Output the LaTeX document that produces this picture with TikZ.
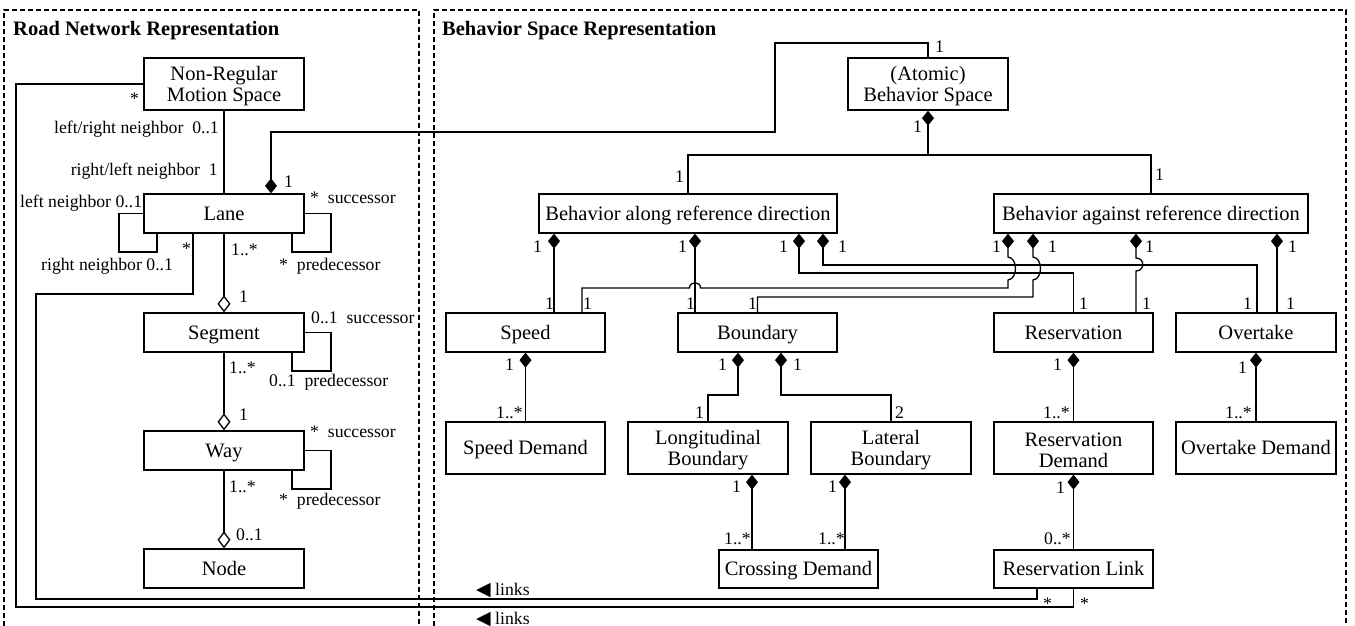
\documentclass[tikz,border=0pt]{standalone}
\usepackage{fontspec}
\setmainfont{Liberation Serif}
\newfontfamily\symfont{DejaVu Sans}
\usetikzlibrary{arrows.meta}
\newcommand{\topstrut}{\rule{0pt}{18pt}}
\begin{document}
\begin{tikzpicture}[x=1pt,y=-1pt,
  box/.style={draw, line width=1.3pt, minimum width=160pt, minimum height=39pt, inner sep=0pt, align=center, font=\fontsize{20.5}{21.5}\selectfont},
  sbox/.style={box, text height=14pt, text depth=0.5pt},
  lbl/.style={inner sep=0pt, anchor=base west, font=\fontsize{17.7}{20}\selectfont},
  lble/.style={lbl, anchor=base east},
  ttl/.style={inner sep=0pt, anchor=base west, font=\fontsize{20.5}{22}\selectfont\bfseries},
  con/.style={line width=1.3pt},
  comp/.style={con, {Diamond[length=15pt,width=12pt]}-},
  agg/.style={con, {Diamond[open,length=17pt,width=13pt]}-},
  frame/.style={line width=1.1pt, dash pattern=on 5pt off 3pt},
]
\useasboundingbox (0,0) rectangle (1355,626);
% frames
\draw[frame] (4,626) -- (4,10) -- (419,10) -- (419,626);
\draw[frame] (434,626) -- (434,10) -- (1346,10) -- (1346,626);
\node[ttl] (t1) at (13,35.5) {Road Network Representation};
\node[ttl] (t2) at (442,35.5) {Behavior Space Representation};

% left boxes
\node[box, minimum height=52pt] (nrm) at (224,84) {\topstrut Non-Regular\\Motion Space};
\node[sbox] (lane) at (224,213.5) {Lane};
\node[sbox] (seg) at (224,332.5) {Segment};
\node[sbox] (way) at (224,450.5) {Way};
\node[sbox] (nd) at (224,568.5) {Node};

% right boxes
\node[box, minimum height=52pt] (abs) at (928,84) {\topstrut(Atomic)\\Behavior Space};
\node[sbox, minimum width=298pt] (bal) at (688,213.5) {Behavior along reference direction};
\node[sbox, minimum width=314pt] (bag) at (1151,213.5) {Behavior against reference direction};
\node[sbox, minimum width=159pt] (speed) at (525.5,332.5) {Speed};
\node[sbox, minimum width=159pt] (bound) at (757.5,332.5) {Boundary};
\node[sbox, minimum width=159pt] (res) at (1073.5,332.5) {Reservation};
\node[sbox] (ovt) at (1256,332.5) {Overtake};
\node[sbox, minimum width=159pt, minimum height=52pt] (sd) at (525.5,448) {Speed Demand};
\node[box, minimum height=52pt] (lb) at (708,448) {\topstrut Longitudinal\\Boundary};
\node[box, minimum height=52pt] (latb) at (891,448) {\topstrut Lateral\\Boundary};
\node[box, minimum width=159pt, minimum height=52pt] (rd) at (1073.5,448) {\topstrut Reservation\\Demand};
\node[sbox, minimum height=52pt] (od) at (1256,448) {Overtake Demand};
\node[sbox, minimum width=159pt, minimum height=38pt] (cd) at (798.5,569) {Crossing Demand};
\node[sbox, minimum width=159pt, minimum height=38pt] (rl) at (1073.5,569) {Reservation Link};

% left connectors
\draw[con] (nrm.south) -- (lane.north);
\draw[comp] (271,0 |- lane.north) -- (271,132) -- (775,132) -- (775,43) -- (928,43) -- (abs.north);
\draw[con] (lane.west) -- (119,213.5) -- (119,252) -- (157,252) -- (157,0 |- lane.south);
\draw[con] (lane.east) -- (331,213.5) -- (331,252) -- (292,252) -- (292,0 |- lane.south);
\draw[agg] (seg.north) -- (lane.south);
\draw[con] (seg.east) -- (331,332.5) -- (331,371) -- (292,371) -- (292,0 |- seg.south);
\draw[agg] (way.north) -- (seg.south);
\draw[con] (way.east) -- (331,450.5) -- (331,489) -- (292,489) -- (292,0 |- way.south);
\draw[agg] (nd.north) -- (way.south);
\draw[con] (193,0 |- lane.south) -- (193,294) -- (36,294) -- (36,599) -- (1037,599) -- (1037,0 |- rl.south);
\draw[con] (nrm.west) -- (16,84) -- (16,607) -- (1073.5,607) -- (rl.south);

% right connectors
\draw[comp] (abs.south) -- (928,155) -| (bal.north);
\draw[con] (928,155) -| (bag.north);
\draw[comp] (554,0 |- bal.south) -- (554,0 |- speed.north);
\draw[comp] (695,0 |- bal.south) -- (695,0 |- bound.north);
\draw[comp] (799,0 |- bal.south) -- (799,273) -- (1073.5,273) -- (res.north);
\draw[comp] (823,0 |- bal.south) -- (823,265) -- (1257,265) -- (1257,0 |- ovt.north);
\draw[comp] (1008,0 |- bag.south) -- (1008,257) .. controls (1018,258) and (1018,279) .. (1008,280) -- (1008,288) -- (700.5,288) .. controls (700.5,281) and (689.5,281) .. (689.5,288) -- (582,288) -- (582,0 |- speed.north);
\draw[comp] (1033,0 |- bag.south) -- (1033,257) .. controls (1043,258) and (1043,279) .. (1033,280) -- (1033,297) -- (757.5,297) -- (bound.north);
\draw[comp] (1136,0 |- bag.south) -- (1136,258) .. controls (1145,258) and (1145,271) .. (1136,271) -- (1136,0 |- res.north);
\draw[comp] (1277,0 |- bag.south) -- (1277,0 |- ovt.north);
\draw[comp] (speed.south) -- (sd.north);
\draw[comp] (738,0 |- bound.south) -- (738,395) -- (708,395) -- (lb.north);
\draw[comp] (781,0 |- bound.south) -- (781,395) -- (891,395) -- (latb.north);
\draw[comp] (res.south) -- (rd.north);
\draw[comp] (ovt.south) -- (od.north);
\draw[comp] (752,0 |- lb.south) -- (752,0 |- cd.north);
\draw[comp] (845,0 |- latb.south) -- (845,0 |- cd.north);
\draw[comp] (rd.south) -- (rl.north);

% left labels
\node[lbl] (l1) at (130,104) {*};
\node[lble] (l2) at (219,133) {left/right neighbor\ \ 0..1};
\node[lble] (l3) at (218,175) {right/left neighbor\ \ 1};
\node[lbl] (l4) at (284,187) {1};
\node[lbl] (l5) at (20,207) {left neighbor 0..1};
\node[lbl] (l6) at (310,203) {*\ \ successor};
\node[lbl] (l7) at (41,270) {right neighbor 0..1};
\node[lbl] (l8) at (279,270) {*\ \ predecessor};
\node[lbl] (l9) at (182,254) {*};
\node[lbl] (l10) at (231,255) {1..*};
\node[lbl] (l11) at (239,302) {1};
\node[lbl] (l12) at (311,323) {0..1\ \ successor};
\node[lbl] (l13) at (229,373) {1..*};
\node[lbl] (l14) at (269,386) {0..1\ \ predecessor};
\node[lbl] (l15) at (239,420) {1};
\node[lbl] (l16) at (310,437) {*\ \ successor};
\node[lbl] (l17) at (229,492) {1..*};
\node[lbl] (l18) at (279,505) {*\ \ predecessor};
\node[lbl] (l19) at (236,540) {0..1};

% right labels
\node[lbl] (r1) at (935,53) {1};
\node[lbl] (r2) at (913,132) {1};
\node[lbl] (r3) at (675,182) {1};
\node[lbl] (r4) at (1155,180) {1};
\node[lbl] (r5) at (533,252) {1};
\node[lbl] (r6) at (678,252) {1};
\node[lbl] (r7) at (779,252) {1};
\node[lbl] (r8) at (838,252) {1};
\node[lbl] (r9) at (992,252) {1};
\node[lbl] (r10) at (1048,252) {1};
\node[lbl] (r11) at (1145,252) {1};
\node[lbl] (r12) at (1288,252) {1};
\node[lbl] (r13) at (545,309) {1};
\node[lbl] (r14) at (583,309) {1};
\node[lbl] (r15) at (686,309) {1};
\node[lbl] (r16) at (748,309) {1};
\node[lbl] (r17) at (1079,309) {1};
\node[lbl] (r18) at (1142,309) {1};
\node[lbl] (r19) at (1243,309) {1};
\node[lbl] (r20) at (1286,309) {1};
\node[lbl] (r21) at (505,370) {1};
\node[lbl] (r22) at (718,370) {1};
\node[lbl] (r23) at (793,370) {1};
\node[lbl] (r24) at (1053,370) {1};
\node[lbl] (r25) at (1238,373) {1};
\node[lbl] (r26) at (496,418) {1..*};
\node[lbl] (r27) at (695,418) {1};
\node[lbl] (r28) at (895,418) {2};
\node[lbl] (r29) at (1043,418) {1..*};
\node[lbl] (r30) at (1225,418) {1..*};
\node[lbl] (r31) at (732,492) {1};
\node[lbl] (r32) at (828,492) {1};
\node[lbl] (r33) at (1056,493) {1};
\node[lbl] (r34) at (724,544) {1..*};
\node[lbl] (r35) at (818,544) {1..*};
\node[lbl] (r36) at (1044,544) {0..*};
\node[lbl] (r37) at (1043,609) {*};
\node[lbl] (r38) at (1080,609) {*};
\node[lbl] (k1) at (476,595) {{\symfont\fontsize{19}{20}\selectfont ◀} links};
\node[lbl] (k2) at (476,624) {{\symfont\fontsize{19}{20}\selectfont ◀} links};
\end{tikzpicture}
\end{document}
